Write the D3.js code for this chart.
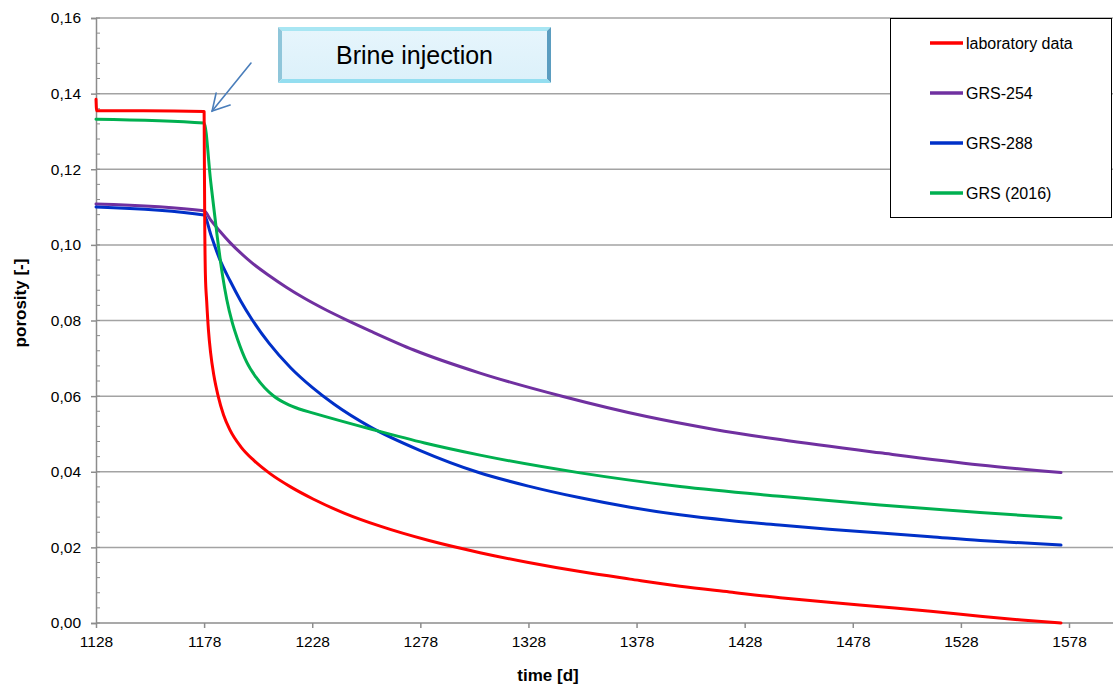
<!DOCTYPE html>
<html>
<head>
<meta charset="utf-8">
<script src="https://cdn.jsdelivr.net/npm/d3@7"></script>
<style>
  html, body { margin: 0; padding: 0; background: #ffffff; }
  svg { display: block; font-family: "Liberation Sans", Arial, sans-serif; }
</style>
</head>
<body>
<svg id="chart" width="1113" height="686"></svg>
<script>
// Porosity over time for the lab measurement and three model runs
const seriesNames = ["laboratory data", "GRS-254", "GRS-288", "GRS (2016)"];
const seriesColors = ["#ff0000", "#7030a0", "#0030c8", "#00b050"];

const labData = [
  [1128, 0.1385], [1128.3, 0.1355], [1150, 0.1355], [1178, 0.1353],
  [1178.1, 0.125], [1178.3, 0.105], [1178.6, 0.0920], [1179.2, 0.0850],
  [1180, 0.0775], [1181, 0.0715], [1182.5, 0.0655], [1184.5, 0.0600],
  [1187, 0.0550], [1190, 0.0510], [1195, 0.0466], [1201, 0.0430],
  [1208.5, 0.0395], [1218, 0.0360], [1228.4, 0.0328], [1243, 0.0290],
  [1259.4, 0.0256], [1282, 0.0218], [1305.6, 0.0186], [1328, 0.0160],
  [1351.9, 0.0136], [1375, 0.0116], [1398.1, 0.0097], [1421, 0.0082],
  [1444.4, 0.0067], [1467, 0.0055], [1490.6, 0.0043], [1514, 0.0031],
  [1536.9, 0.0018], [1556, 0.0008], [1574.3, 0.0000]
];

const grs254 = [
  [1128, 0.1108], [1178, 0.1090], [1181, 0.1066], [1185, 0.1038],
  [1190, 0.1006], [1195, 0.0978], [1200, 0.0953], [1208, 0.0919],
  [1216, 0.0888], [1224, 0.0860], [1234, 0.0829], [1244, 0.0801],
  [1255, 0.0772], [1275, 0.0722], [1305.6, 0.0661], [1344.0, 0.0599],
  [1382.7, 0.0546], [1414, 0.0512], [1444.4, 0.0485], [1490.6, 0.0450],
  [1536.9, 0.0418], [1574.3, 0.0398]
];

const grs288 = [
  [1128, 0.1100], [1178, 0.1079], [1181, 0.1029], [1185, 0.0965],
  [1190, 0.0905], [1195, 0.0851], [1200, 0.0804], [1208, 0.0740],
  [1218, 0.0675], [1228, 0.0623], [1238, 0.0579], [1255, 0.0518],
  [1278, 0.0456], [1305, 0.0398], [1328, 0.0362], [1352, 0.0331],
  [1375, 0.0306], [1398, 0.0286], [1421, 0.0271], [1444, 0.0259],
  [1467, 0.0248], [1491, 0.0238], [1514, 0.0228], [1537, 0.0218],
  [1556, 0.0212], [1574.3, 0.0206]
];

const grs2016 = [
  [1128, 0.1332], [1178, 0.1322], [1181, 0.1170], [1184, 0.1025],
  [1186.5, 0.0920], [1188.5, 0.0855], [1191, 0.0795], [1193.5, 0.0750],
  [1197.7, 0.0690], [1202, 0.0650], [1206, 0.0622], [1210, 0.0601],
  [1216, 0.0580], [1222, 0.0566], [1228.5, 0.0555], [1256.3, 0.0511],
  [1280, 0.0476], [1305.6, 0.0444], [1351.9, 0.0397], [1398.1, 0.0361],
  [1444.4, 0.0335], [1490.6, 0.0312], [1536.9, 0.0292], [1574.3, 0.0278]
];

const xTicks = [1128, 1178, 1228, 1278, 1328, 1378, 1428, 1478, 1528, 1578];
const yTicks = [0, 0.02, 0.04, 0.06, 0.08, 0.10, 0.12, 0.14, 0.16];
const yMinorTicks = d3.range(0, 0.1601, 0.004);

const allSeries = [labData, grs254, grs288, grs2016];

const svg = d3.select("#chart");
const plotLeft = 96, plotTop = 18, plotBottom = 623, plotRight = 1113;

const x = d3.scaleLinear().domain([1128, 1578]).range([plotLeft, 1069]);
const y = d3.scaleLinear().domain([0, 0.16]).range([plotBottom, plotTop]);
const fmt = d => d3.format(".2f")(d).replace(".", ",");

// horizontal gridlines
svg.append("g").selectAll("line").data(yTicks.filter(d => d > 0)).join("line")
  .attr("x1", plotLeft).attr("x2", plotRight)
  .attr("y1", d => y(d)).attr("y2", d => y(d))
  .attr("stroke", "#a3a3a3").attr("stroke-width", 1.5);

// y axis with outer major ticks and inner minor ticks
const yAxis = svg.append("g").attr("transform", `translate(${plotLeft},0)`)
  .call(d3.axisLeft(y).tickValues(yTicks).tickFormat(fmt).tickSize(5).tickPadding(10));
yAxis.select(".domain").attr("stroke", "#8c8c8c").attr("stroke-width", 1.5);
yAxis.selectAll(".tick line").attr("stroke", "#8c8c8c").attr("stroke-width", 1.5);
yAxis.selectAll("text").attr("font-size", 15.5).attr("fill", "#000")
  .attr("font-family", "Liberation Sans, Arial, sans-serif");
svg.append("g").selectAll("line").data(yMinorTicks).join("line")
  .attr("x1", plotLeft).attr("x2", plotLeft + 4)
  .attr("y1", d => y(d)).attr("y2", d => y(d))
  .attr("stroke", "#8c8c8c").attr("stroke-width", 1);

// x axis
const xAxis = svg.append("g").attr("transform", `translate(0,${plotBottom})`)
  .call(d3.axisBottom(x).tickValues(xTicks).tickFormat(d3.format("d")).tickSize(5).tickPadding(8)
    .tickSizeOuter(0));
xAxis.select(".domain").attr("stroke", "#8c8c8c").attr("stroke-width", 1.5)
  .attr("d", `M${plotLeft},0H${plotRight}`);
xAxis.selectAll(".tick line").attr("stroke", "#8c8c8c").attr("stroke-width", 1.5);
xAxis.selectAll("text").attr("font-size", 15.5).attr("fill", "#000")
  .attr("font-family", "Liberation Sans, Arial, sans-serif");

// axis titles
svg.append("text").attr("x", 548).attr("y", 681).attr("text-anchor", "middle")
  .attr("font-size", 17).attr("font-weight", "bold").text("time [d]");
svg.append("text").attr("transform", "translate(26,303) rotate(-90)")
  .attr("text-anchor", "middle").attr("font-size", 17).attr("font-weight", "bold")
  .text("porosity [-]");

// series lines
const line = d3.line().x(d => x(d[0])).y(d => y(d[1])).curve(d3.curveMonotoneX);
const drawOrder = [1, 2, 3, 0];
drawOrder.forEach(i => {
  svg.append("path").datum(allSeries[i])
    .attr("d", line).attr("fill", "none")
    .attr("stroke", seriesColors[i]).attr("stroke-width", 3)
    .attr("stroke-linejoin", "round").attr("stroke-linecap", "round");
});

// legend
const lg = svg.append("g");
lg.append("rect").attr("x", 890.5).attr("y", 18.5).attr("width", 221).attr("height", 199)
  .attr("fill", "#fff").attr("stroke", "#000").attr("stroke-width", 1);
const legendY = [43, 93, 143, 193];
seriesNames.forEach((name, i) => {
  lg.append("line").attr("x1", 930).attr("x2", 963)
    .attr("y1", legendY[i]).attr("y2", legendY[i])
    .attr("stroke", seriesColors[i]).attr("stroke-width", 3.5);
  lg.append("text").attr("x", 966).attr("y", legendY[i]).attr("dy", "0.36em")
    .attr("font-size", 16).text(name);
});

// "Brine injection" callout with bevelled box
const bx = 278, by = 27, bw = 273, bh = 56, bev = 4;
const defs = svg.append("defs");
const grad = defs.append("linearGradient").attr("id", "boxFill")
  .attr("x1", 0).attr("y1", 0).attr("x2", 0).attr("y2", 1);
grad.append("stop").attr("offset", 0).attr("stop-color", "#e6f5fc");
grad.append("stop").attr("offset", 1).attr("stop-color", "#dcf1fa");
const callout = svg.append("g");
callout.append("polygon").attr("fill", "#a8e6f3")
  .attr("points", `${bx},${by} ${bx + bw},${by} ${bx + bw - bev},${by + bev} ${bx + bev},${by + bev}`);
callout.append("polygon").attr("fill", "#8fc6da")
  .attr("points", `${bx},${by} ${bx + bev},${by + bev} ${bx + bev},${by + bh - bev} ${bx},${by + bh}`);
callout.append("polygon").attr("fill", "#5b9dc0")
  .attr("points", `${bx + bw},${by} ${bx + bw},${by + bh} ${bx + bw - bev},${by + bh - bev} ${bx + bw - bev},${by + bev}`);
callout.append("polygon").attr("fill", "#94def0")
  .attr("points", `${bx},${by + bh} ${bx + bev},${by + bh - bev} ${bx + bw - bev},${by + bh - bev} ${bx + bw},${by + bh}`);
callout.append("rect").attr("x", bx + bev).attr("y", by + bev)
  .attr("width", bw - 2 * bev).attr("height", bh - 2 * bev).attr("fill", "url(#boxFill)");
callout.append("text").attr("x", bx + bw / 2).attr("y", by + bh / 2).attr("dy", "0.36em")
  .attr("text-anchor", "middle").attr("font-size", 25).attr("fill", "#000")
  .text("Brine injection");

// arrow pointing at the injection start
const tipX = x(1178) + 8, tipY = y(0.1354);
const arrow = svg.append("g").attr("stroke", "#4a7ebb").attr("stroke-width", 1.6)
  .attr("fill", "none").attr("stroke-linecap", "round");
arrow.append("line").attr("x1", 251).attr("y1", 63).attr("x2", tipX).attr("y2", tipY);
arrow.append("polyline")
  .attr("points", `${tipX + 4},${tipY - 18} ${tipX},${tipY} ${tipX + 18},${tipY - 6}`);
</script>
</body>
</html>
